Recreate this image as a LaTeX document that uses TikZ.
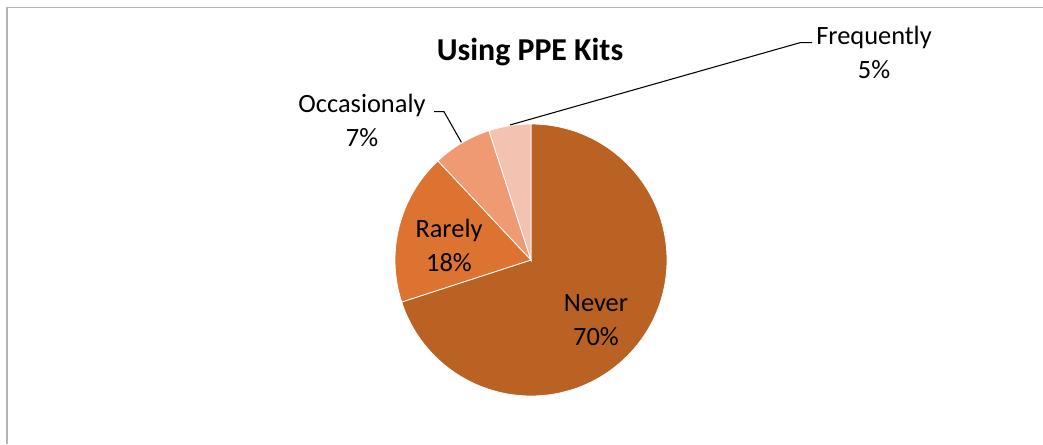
\documentclass[tikz,border=0pt]{standalone}
\usepackage{fontspec}
\setmainfont{Carlito}
\usetikzlibrary{positioning, calc}
\definecolor{cnever}{HTML}{B96223}
\definecolor{crarely}{HTML}{DD7331}
\definecolor{coccas}{HTML}{EF9A72}
\definecolor{cfreq}{HTML}{F4C2B1}
\definecolor{cframe}{HTML}{B3B3B3}
\tikzset{
  every picture/.style={x=0.75pt, y=0.75pt},
  slice/.style={fill=#1, draw=white, line width=0.6pt},
  pct/.style={font=\fontsize{19.8}{26}\selectfont, align=center, inner sep=0pt},
  title/.style={font=\fontsize{23.9}{28}\selectfont\bfseries, inner sep=0pt},
  leader/.style={draw=black, line width=0.8pt},
}

\begin{document}
\begin{tikzpicture}
  \useasboundingbox (0,0) rectangle (1043,444);
  \draw[cframe, line width=1.2pt] (7,0) -- (7,436.5) -- (1043,436.5);
  \node[title] (title) at (530,392) {Using PPE Kits};
  % pie
  \coordinate (c) at (531,184);
  \filldraw[slice=cnever] (c) -- ++(90:102pt) arc[start angle=90, end angle=-162, radius=102pt] -- cycle;
  \filldraw[slice=crarely] (c) -- ++(-162:102pt) arc[start angle=-162, end angle=-226.8, radius=102pt] -- cycle;
  \filldraw[slice=coccas] (c) -- ++(-226.8:102pt) arc[start angle=-226.8, end angle=-252, radius=102pt] -- cycle;
  \filldraw[slice=cfreq] (c) -- ++(-252:102pt) arc[start angle=-252, end angle=-270, radius=102pt] -- cycle;
  % labels
  \node[pct] (never) at (596,124) {Never\\70\%};
  \node[pct] (rarely) at (449,198.5) {Rarely\\18\%};
  \node[pct] (occas) at (362,323.5) {Occasionaly\\7\%};
  \node[pct] (freq) at (874,391.5) {Frequently\\5\%};
  % leaders
  \coordinate (occ tip) at ($(c)+(120.6:102.5pt)$);
  \coordinate (occ knee) at (444,332.3);
  \coordinate (occ start) at (434,332.3);
  \draw[leader] (occ start) -- (occ knee) -- (occ tip);
  \coordinate (freq tip) at ($(c)+(98.8:102.5pt)$);
  \coordinate (freq knee) at (800,401.3);
  \coordinate (freq start) at (812,401.3);
  \draw[leader] (freq start) -- (freq knee) -- (freq tip);
\end{tikzpicture}
\end{document}
